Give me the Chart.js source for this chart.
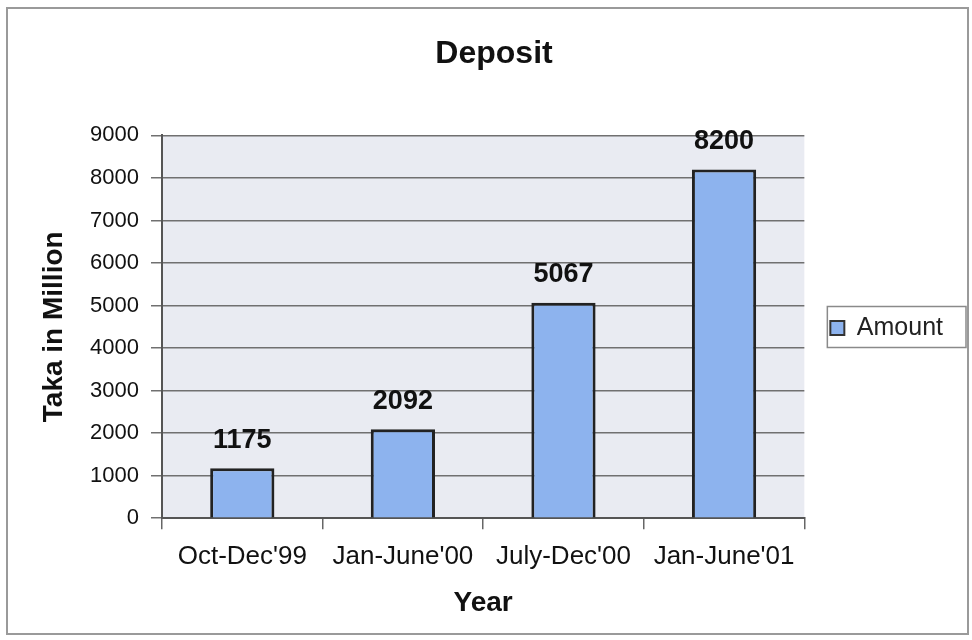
<!DOCTYPE html>
<html>
<head>
<meta charset="utf-8">
<script src="https://cdn.jsdelivr.net/npm/chart.js@4.4.0/dist/chart.umd.min.js"></script>
<style>
  html, body { margin: 0; padding: 0; background: #ffffff; }
  #wrap { width: 972px; height: 640px; }
</style>
</head>
<body>
<div id="wrap"><canvas id="chart1"></canvas></div>
<script>
var periods = ["Oct-Dec'99", "Jan-June'00", "July-Dec'00", "Jan-June'01"];
var amount = [1175, 2092, 5067, 8200];
var yTicks = [0, 1000, 2000, 3000, 4000, 5000, 6000, 7000, 8000, 9000];

var fontFamily = "'Liberation Sans', Arial, sans-serif";

// frame round the whole chart and the grey plot background
var framePlugin = {
    id: 'frame',
    beforeDraw: function (chart) {
        var c = chart.ctx;
        var a = chart.chartArea;
        c.save();
        c.fillStyle = '#ffffff';
        c.fillRect(0, 0, chart.width, chart.height);
        c.strokeStyle = '#9a9a9a';
        c.lineWidth = 2;
        c.strokeRect(7, 8, 961, 626);
        c.fillStyle = '#e9ebf2';
        c.fillRect(a.left, a.top, a.right - a.left, a.bottom - a.top);
        c.restore();
    },
    afterDraw: function (chart) {
        // box round the legend entry
        var hb = chart.legend.legendHitBoxes[0];
        if (!hb) return;
        var c = chart.ctx;
        c.save();
        c.strokeStyle = '#8a8a8a';
        c.lineWidth = 1.5;
        c.strokeRect(hb.left - 3, hb.top - 9, hb.width + 26, 41);
        c.restore();
    }
};

// value printed above each bar
var valuePlugin = {
    id: 'values',
    afterDatasetsDraw: function (chart) {
        var c = chart.ctx;
        var meta = chart.getDatasetMeta(0);
        c.save();
        c.font = 'bold 27px ' + fontFamily;
        c.fillStyle = '#111111';
        c.textAlign = 'center';
        c.textBaseline = 'middle';
        meta.data.forEach(function (bar, i) {
            c.fillText(String(amount[i]), bar.x, bar.y - 28);
        });
        c.restore();
    }
};

new Chart(document.getElementById('chart1').getContext('2d'), {
    type: 'bar',
    data: {
        labels: periods,
        datasets: [
            {
                label: 'Amount',
                data: amount,
                backgroundColor: '#8db3ee',
                borderColor: '#222222',
                borderWidth: 3,
                barPercentage: 0.4,
                categoryPercentage: 1.0
            }
        ]
    },
    options: {
        responsive: true,
        maintainAspectRatio: false,
        animation: false,
        layout: {
            padding: { top: 10, right: 19, bottom: 16, left: 35 }
        },
        plugins: {
            title: {
                display: true,
                text: 'Deposit',
                color: '#111111',
                font: { family: fontFamily, size: 32, weight: 'bold' },
                padding: { top: 25, bottom: 62 }
            },
            legend: {
                position: 'right',
                // empty title only pushes the entry down a little
                title: {
                    display: true,
                    text: ' ',
                    font: { family: fontFamily, size: 10 },
                    padding: { top: 10, bottom: 0 }
                },
                labels: {
                    color: '#222222',
                    font: { family: fontFamily, size: 25 },
                    boxWidth: 14,
                    boxHeight: 14,
                    padding: 26,
                    generateLabels: function (chart) {
                        return [{
                            text: 'Amount',
                            fillStyle: '#8db3ee',
                            strokeStyle: '#333333',
                            fontColor: '#222222',
                            lineWidth: 2,
                            datasetIndex: 0
                        }];
                    }
                }
            },
            tooltip: { enabled: false }
        },
        scales: {
            x: {
                grid: {
                    display: true,
                    drawOnChartArea: false,
                    drawTicks: true,
                    tickLength: 11,
                    color: '#666666',
                    lineWidth: 1.5
                },
                border: { color: '#555555', width: 2 },
                ticks: {
                    color: '#111111',
                    font: { family: fontFamily, size: 26 },
                    padding: 12,
                    maxRotation: 0
                },
                title: {
                    display: true,
                    text: 'Year',
                    color: '#111111',
                    font: { family: fontFamily, size: 28, weight: 'bold' },
                    padding: { top: 2, bottom: 4 }
                }
            },
            y: {
                min: 0,
                max: 9000,
                afterFit: function (scale) {
                    scale.width = 127;
                },
                afterBuildTicks: function (scale) {
                    scale.ticks = yTicks.map(function (v) { return { value: v }; });
                },
                grid: {
                    color: '#707070',
                    lineWidth: 1.5,
                    tickLength: 11
                },
                border: { color: '#555555', width: 2 },
                ticks: {
                    color: '#111111',
                    font: { family: fontFamily, size: 22 },
                    padding: 12,
                    callback: function (value) {
                        return String(value);
                    }
                },
                title: {
                    display: true,
                    text: 'Taka in Million',
                    color: '#111111',
                    font: { family: fontFamily, size: 28, weight: 'bold' },
                    padding: { top: 2, bottom: 4 }
                }
            }
        }
    },
    plugins: [framePlugin, valuePlugin]
});
</script>
</body>
</html>
